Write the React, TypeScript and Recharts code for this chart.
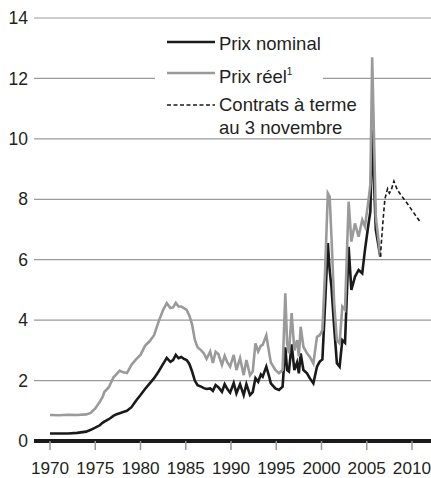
import React from 'react';
import { LineChart, Line, XAxis, YAxis, CartesianGrid, Legend } from 'recharts';

const years = [
  1970.0, 1971.0, 1972.0, 1973.0, 1974.0, 1974.5, 1975.0, 1975.5, 1975.8, 1976.0,
  1976.5, 1977.0, 1977.3, 1977.7, 1978.0, 1978.5, 1979.0, 1979.5, 1980.0, 1980.5,
  1981.0, 1981.5, 1982.0, 1982.5, 1982.9, 1983.3, 1983.6, 1983.9, 1984.2, 1984.5,
  1984.8, 1985.1, 1985.4, 1985.7, 1986.0, 1986.3, 1986.7, 1987.0, 1987.3, 1987.7,
  1988.0, 1988.3, 1988.6, 1989.0, 1989.3, 1989.6, 1989.9, 1990.3, 1990.6, 1991.0,
  1991.4, 1991.7, 1992.1, 1992.4, 1992.7, 1993.0, 1993.3, 1993.5, 1993.9, 1994.2,
  1994.4, 1994.9, 1995.3, 1995.7, 1996.0, 1996.2, 1996.4, 1996.7, 1997.0, 1997.3,
  1997.5, 1997.7, 1998.0, 1998.4, 1998.7, 1999.1, 1999.5, 1999.8, 2000.1, 2000.4,
  2000.7, 2000.9, 2001.1, 2001.4, 2001.7, 2002.0, 2002.3, 2002.6, 2003.0, 2003.3,
  2003.7, 2004.1, 2004.5, 2004.8, 2005.2, 2005.4, 2005.6, 2006.0, 2006.5,
];

const nominal = [
  0.25, 0.25, 0.25, 0.27, 0.31, 0.37, 0.44, 0.52, 0.6, 0.64,
  0.72, 0.83, 0.88, 0.92, 0.95, 1.0, 1.12, 1.33, 1.52, 1.72,
  1.9, 2.08, 2.3, 2.55, 2.75, 2.62, 2.68, 2.85, 2.74, 2.78,
  2.72, 2.68, 2.55, 2.3, 2.0, 1.85, 1.8, 1.75, 1.72, 1.74,
  1.66, 1.85, 1.78, 1.63, 1.88, 1.72, 1.6, 1.92, 1.58, 1.88,
  1.52, 1.88, 1.52, 1.62, 2.08, 1.96, 2.2, 2.13, 2.46, 2.15,
  1.91, 1.74, 1.69, 1.8, 3.1, 2.35, 2.3, 3.2, 2.35, 2.6,
  2.24, 2.9, 2.35, 2.24, 2.08, 1.91, 2.46, 2.63, 2.7, 4.56,
  6.55, 5.66, 5.1, 3.78, 2.57, 2.46, 3.34, 3.25, 6.43, 5.0,
  5.44, 5.66, 5.55, 6.32, 7.2, 7.6, 10.3, 7.0, 6.1,
];

const real = [
  0.86, 0.85, 0.87, 0.86, 0.88, 0.93, 1.08, 1.3, 1.45, 1.62,
  1.78, 2.1, 2.2, 2.33, 2.28, 2.25, 2.52, 2.7, 2.85, 3.15,
  3.3, 3.5, 3.95, 4.34, 4.56, 4.4, 4.42, 4.57, 4.45, 4.45,
  4.4, 4.34, 4.15, 3.85, 3.35, 3.1, 3.0, 2.9, 2.72, 2.96,
  2.58, 2.95, 2.88, 2.52, 2.82, 2.6, 2.46, 2.85, 2.35, 2.74,
  2.18, 2.68, 2.18, 2.3, 3.23, 2.96, 3.15, 3.18, 3.5, 2.95,
  2.6, 2.35, 2.24, 2.35, 4.89, 3.23, 2.9, 4.23, 3.0, 3.34,
  2.8, 3.78, 3.12, 2.9, 2.79, 2.57, 3.45, 3.5, 3.67, 5.66,
  8.2, 8.09, 6.76, 4.56, 3.34, 3.23, 4.45, 4.34, 7.92, 6.6,
  7.2, 6.76, 7.32, 7.1, 7.98, 8.5, 12.7, 7.43, 6.1,
];

const futureYears = [2006.5, 2006.8, 2007.0, 2007.3, 2007.5, 2007.7, 2008.0, 2008.4, 2009.0, 2009.5, 2010.2, 2010.9];
const futures = [6.1, 7.3, 8.0, 8.35, 8.2, 8.3, 8.6, 8.3, 8.05, 7.85, 7.55, 7.25];

const xTicks = [1970, 1975, 1980, 1985, 1990, 1995, 2000, 2005, 2010];
const yTicks = [0, 2, 4, 6, 8, 10, 12, 14];

const legendLabels = {
  nominal: 'Prix nominal',
  real: 'Prix réel',
  realNote: '1',
  futures1: 'Contrats à terme',
  futures2: 'au 3 novembre',
};

type Row = { year: number; nominal?: number; real?: number; futures?: number };

const data: Row[] = years.map((y, i) => ({ year: y, nominal: nominal[i], real: real[i] }));
futureYears.forEach((y, i) => {
  const existing = data.find((r) => r.year === y);
  if (existing) existing.futures = futures[i];
  else data.push({ year: y, futures: futures[i] });
});
data.sort((a, b) => a.year - b.year);

const FONT = '"Liberation Sans", Arial, Helvetica, sans-serif';
const TEXT = '#231f20';
const GRAY = '#9a9a9a';
const BLACK = '#1a1a1a';

const LegendContent = () => (
  <svg width={260} height={115} style={{ overflow: 'visible', display: 'block' }}>
    <line x1={12} x2={60} y1={15} y2={15} stroke={BLACK} strokeWidth={2.5} />
    <text x={64} y={16} dominantBaseline="central" fontSize={18.5} fill={TEXT} fontFamily={FONT}>
      {legendLabels.nominal}
    </text>
    <line x1={12} x2={60} y1={46} y2={46} stroke={GRAY} strokeWidth={2.5} />
    <text x={64} y={49} dominantBaseline="central" fontSize={18.5} fill={TEXT} fontFamily={FONT}>
      {legendLabels.real}
      <tspan fontSize={10} dy={-5}>{legendLabels.realNote}</tspan>
    </text>
    <line x1={12} x2={60} y1={78} y2={78} stroke={BLACK} strokeWidth={1.6} strokeDasharray="4 2.5" />
    <text x={64} y={77} dominantBaseline="central" fontSize={18.5} fill={TEXT} fontFamily={FONT}>
      {legendLabels.futures1}
    </text>
    <text x={64} y={100} dominantBaseline="central" fontSize={18.5} fill={TEXT} fontFamily={FONT}>
      {legendLabels.futures2}
    </text>
  </svg>
);

export default function App() {
  return (
    <div style={{ position: 'absolute', left: 0, top: 0, width: 431, height: 478, background: '#fff' }}>
      <LineChart width={431} height={478} data={data} margin={{ top: 18, right: 0, bottom: 0, left: 0 }}>
        <CartesianGrid horizontal vertical={false} stroke={GRAY} strokeWidth={1.2} />
        <XAxis
          dataKey="year"
          type="number"
          domain={[1968.23, 2012.1]}
          ticks={xTicks}
          allowDataOverflow
          height={37}
          axisLine={{ stroke: BLACK, strokeWidth: 4 }}
          tickLine={{ stroke: GRAY, strokeWidth: 1.5 }}
          tickSize={9}
          tickMargin={12}
          tick={{ fill: TEXT, fontSize: 17.2, fontFamily: FONT }}
          interval={0}
        />
        <YAxis
          type="number"
          domain={[0, 14]}
          ticks={yTicks}
          width={34}
          axisLine={false}
          tickLine={false}
          tickSize={6}
          tickMargin={0}
          tick={{ fill: TEXT, fontSize: 17.5, fontFamily: FONT }}
          interval={0}
        />
        <Legend
          layout="horizontal"
          verticalAlign="middle"
          align="center"
          content={LegendContent}
          wrapperStyle={{ left: 155, top: 27, width: 168, height: 110, backgroundColor: '#fff' }}
        />
        <Line dataKey="nominal" stroke={BLACK} strokeWidth={2.6} dot={false} isAnimationActive={false} connectNulls={false} legendType="none" />
        <Line dataKey="real" stroke={GRAY} strokeWidth={2.6} dot={false} isAnimationActive={false} connectNulls={false} legendType="none" />
        <Line dataKey="futures" stroke={BLACK} strokeWidth={1.6} strokeDasharray="4 2.5" dot={false} isAnimationActive={false} connectNulls legendType="none" />
      </LineChart>
    </div>
  );
}
